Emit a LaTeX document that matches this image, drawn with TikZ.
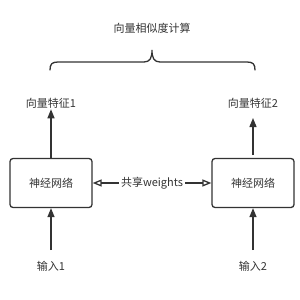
\documentclass[tikz,border=0pt]{standalone}
\usepackage{fontspec}
\setmainfont{Noto Sans CJK SC}
\usetikzlibrary{arrows.meta}
\definecolor{ln}{HTML}{333333}
\begin{document}
\begin{tikzpicture}[x=1pt,y=-1pt,
  lbl/.style={text=ln,font=\fontsize{11}{13}\selectfont,inner sep=0pt},
  netbox/.style={draw=ln,line width=1.3pt,rounded corners=3pt,minimum width=82pt,minimum height=49pt,text=ln,font=\fontsize{11}{13}\selectfont},
  uparr/.style={draw=ln,line width=1.3pt,-{Triangle[width=7pt,length=9pt]}},
  openarr/.style={draw=ln,line width=1.3pt,{Triangle[open,width=7pt,length=9pt]}-{Triangle[open,width=7pt,length=9pt]}},
  brc/.style={draw=ln,line width=1.3pt,line cap=round}]
\useasboundingbox (0,0) rectangle (300,300);
\node[lbl] (title) at (152,28) {向量相似度计算};
\node[lbl] (f1) at (51,103) {向量特征1};
\node[lbl] (f2) at (253,103) {向量特征2};
\node[netbox] (n1) at (51,183) {神经网络};
\node[netbox] (n2) at (253,183) {神经网络};
\node[lbl] (i1) at (51,266) {输入1};
\node[lbl] (i2) at (253,266) {输入2};
\coordinate (b1) at (51,250);
\coordinate (b2) at (253,250);
\coordinate (t2) at (253,155);
\draw[uparr] (n1.north) -- ([yshift=-1pt]f1.south);
\draw[uparr] (t2) -- (f2.south |- {(0,118)});
\draw[uparr] (b1) -- (n1.south);
\draw[uparr] (b2) -- (n2.south);
\draw[openarr] (n1.east) -- (n2.west) node[midway,fill=white,lbl,inner xsep=2pt,inner ysep=2pt] (sw) {共享weights};
\coordinate (bl) at (50,70);
\coordinate (br) at (255,70);
\coordinate (bt) at (152,50);
\draw[brc] (bl) .. controls (50,64) and (52,62) .. (58,62) -- (144,62) .. controls (150,62) and (152,58) .. (bt)
  .. controls (152,58) and (154,62) .. (160,62) -- (247,62) .. controls (253,62) and (255,64) .. (br);
\end{tikzpicture}
\end{document}
